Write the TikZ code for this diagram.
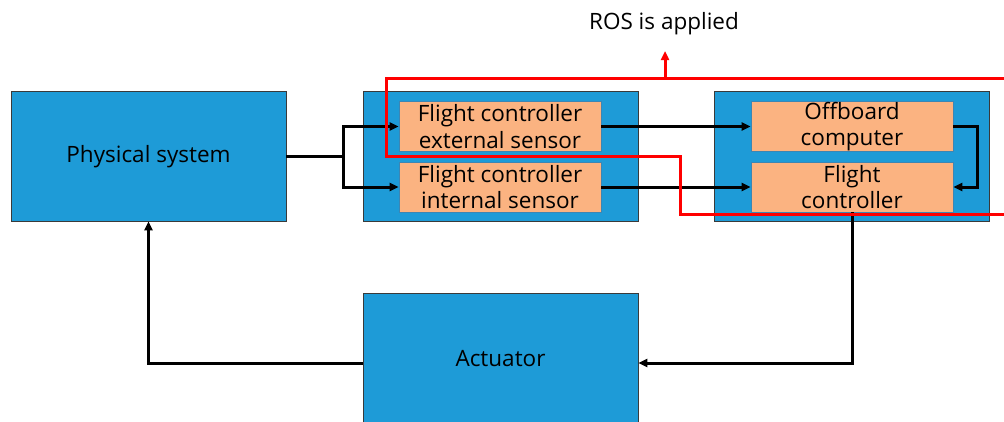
\documentclass[tikz,border=0pt]{standalone}
\usepackage{fontspec}
\setmainfont{Open Sans}
\usetikzlibrary{arrows.meta}
\definecolor{boxblue}{HTML}{1E9BD7}
\definecolor{boxorange}{HTML}{FBB381}
\definecolor{boxedge}{HTML}{3A3A3A}
\definecolor{oredge}{HTML}{3C86B4}
\begin{document}
\begin{tikzpicture}[x=1pt,y=-1pt,
  bluebox/.style={draw=boxedge, line width=0.9pt, fill=boxblue, minimum width=275pt, minimum height=130pt, inner sep=0pt},
  txt/.style={font=\fontsize{22.5}{26}\selectfont, inner sep=0pt},
  orbox/.style={draw=oredge, line width=0.7pt, fill=boxorange, minimum width=202pt, minimum height=50pt, inner sep=0pt, align=center, font=\fontsize{22.5}{26.5}\selectfont},
  conn/.style={line width=3pt, line join=miter},
  arr/.style={conn, -{Triangle[length=9pt,width=8pt]}},
  rosline/.style={draw=red, line width=3pt}]
\useasboundingbox (0,0) rectangle (1004,421);
\node[bluebox] (phys) at (148.5,156) {};
\node[txt] (phystext) at (148.5,157) {Physical system};
\node[bluebox] (mid) at (500.5,156) {};
\node[bluebox] (right) at (852,156) {};
\node[bluebox, minimum height=140pt] (act) at (500.5,363) {};
\node[txt] (acttext) at (500.5,358.5) {Actuator};
\node[orbox] (ext) at (500,126.5) {Flight controller\\external sensor};
\node[orbox] (int) at (500,187) {Flight controller\\internal sensor};
\node[orbox] (off) at (852,126.5) {Offboard\\computer};
\node[orbox] (fc) at (852,187) {Flight\\controller};
\node[txt] (ros) at (664,23.5) {ROS is applied};
% connectors
\coordinate (j) at (343,156);
\draw[conn] (phys.east) -- (j);
\draw[arr] (j) |- (ext.west);
\draw[arr] (j) |- (int.west);
\draw[arr] (ext.east) -- (off.west);
\draw[arr] (int.east) -- (fc.west);
\draw[arr] (off.east) -- ++(24,0) |- (fc.east);
\draw[arr] (fc.south) |- (act.east);
\draw[arr] (act.west) -| (phys.south);
% red ROS boundary
\coordinate (r1) at (1004,78);
\coordinate (r2) at (1004,214);
\coordinate (rb) at (665,78);
\coordinate (rtip) at (665,51);
\draw[rosline] (r1) -- (386,78) -- (386,156) -- (680,156) -- (680,214) -- (r2);
\draw[rosline, -{Triangle[length=9pt,width=8pt]}] (rb) -- (rtip);
\end{tikzpicture}
\end{document}
